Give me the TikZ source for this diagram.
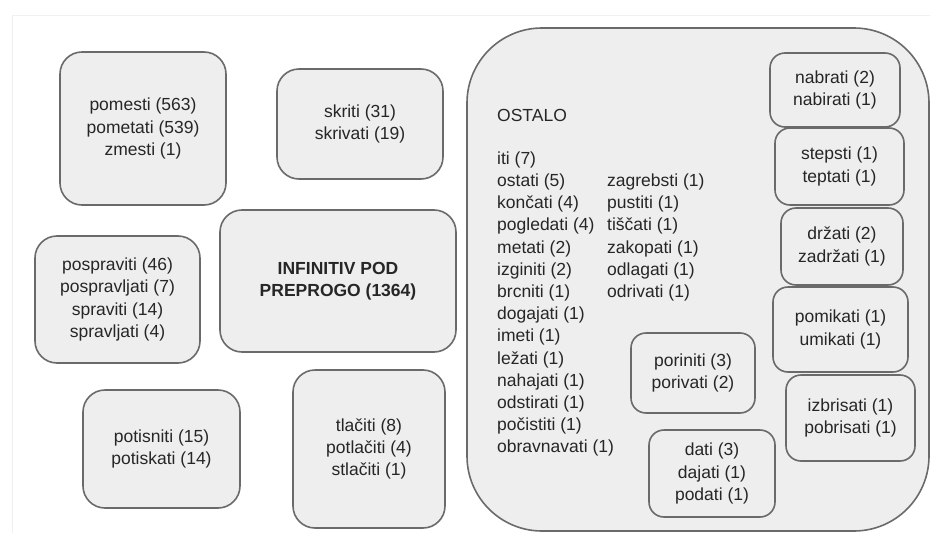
\documentclass[tikz,border=0pt]{standalone}
\usepackage{fontspec}
\setmainfont{Liberation Sans}
\usepackage{tikz}
\definecolor{boxfill}{HTML}{EEEEEE}
\definecolor{boxline}{HTML}{6A6A6A}
\definecolor{ink}{HTML}{262626}

\begin{document}
\begin{tikzpicture}[x=1pt, y=-1pt, font=\fontsize{17.5}{22.2}\selectfont,
  blob/.style={draw=boxline, line width=1.6pt, fill=boxfill, rounded corners=22pt,
    align=center, text=ink, inner sep=0pt},
  smallblob/.style={blob, rounded corners=15pt},
  list/.style={anchor=north west, inner sep=0pt, text=ink}]

\useasboundingbox (0,0) rectangle (930,533);
\draw[black!6] (12,533) -- (12,15) -- (930,15);

% left side
\node[blob, minimum width=166pt, minimum height=153pt] (pomesti) at (143,128.5) {pomesti (563)\\pometati (539)\\zmesti (1)};
\node[blob, minimum width=166pt, minimum height=110pt] (skriti) at (360,124) {skriti (31)\\skrivati (19)};
\node[blob, minimum width=236pt, minimum height=142pt] (infinitiv) at (338,281) {\textbf{INFINITIV POD}\\\textbf{PREPROGO (1364)}};
\node[blob, minimum width=165pt, minimum height=127pt] (pospraviti) at (117.5,299.5) {pospraviti (46)\\pospravljati (7)\\spraviti (14)\\spravljati (4)};
\node[blob, minimum width=157pt, minimum height=118pt] (potisniti) at (161.5,449) {potisniti (15)\\potiskati (14)};
\node[blob, minimum width=152pt, minimum height=158pt] (tlaciti) at (369,449) {tlačiti (8)\\potlačiti (4)\\stlačiti (1)};

% ostalo
\node[blob, rounded corners=75pt, minimum width=462pt, minimum height=503pt] (ostalo) at (698,279.5) {};
\node[anchor=base west, inner sep=0pt, text=ink] (naslov) at (497,121) {OSTALO};
\node[list] (seznam) at (497,148.5) {%
\begin{tabular}{@{}l@{}}
iti (7)\\ ostati (5)\\ končati (4)\\ pogledati (4)\\ metati (2)\\ izginiti (2)\\ brcniti (1)\\
dogajati (1)\\ imeti (1)\\ ležati (1)\\ nahajati (1)\\ odstirati (1)\\ počistiti (1)\\ obravnavati (1)
\end{tabular}};
\node[list] (seznam2) at (607,170.7) {%
\begin{tabular}{@{}l@{}}
zagrebsti (1)\\ pustiti (1)\\ tiščati (1)\\ zakopati (1)\\ odlagati (1)\\ odrivati (1)
\end{tabular}};

\node[smallblob, minimum width=130pt, minimum height=74pt] (nabrati) at (835,90) {nabrati (2)\\nabirati (1)};
\node[smallblob, minimum width=129pt, minimum height=77pt] (stepsti) at (839.5,166.5) {stepsti (1)\\teptati (1)};
\node[smallblob, minimum width=122pt, minimum height=77pt] (drzati) at (842,246.5) {držati (2)\\zadržati (1)};
\node[smallblob, minimum width=135pt, minimum height=85pt] (pomikati) at (840.5,329.5) {pomikati (1)\\umikati (1)};
\node[smallblob, minimum width=129pt, minimum height=86pt] (izbrisati) at (850.5,418) {izbrisati (1)\\pobrisati (1)};
\node[smallblob, minimum width=124pt, minimum height=80pt] (poriniti) at (693,373) {poriniti (3)\\porivati (2)};
\node[smallblob, minimum width=126pt, minimum height=87pt] (dati) at (712,473.5) {dati (3)\\dajati (1)\\podati (1)};

\end{tikzpicture}
\end{document}
